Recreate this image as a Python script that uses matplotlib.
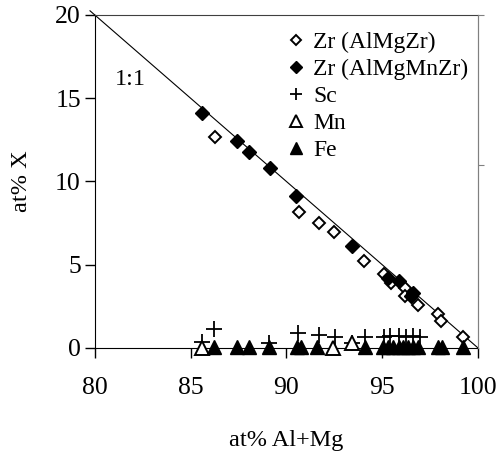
import matplotlib
matplotlib.use("Agg")
import matplotlib.pyplot as plt
import numpy as np

# Data
zr_almgzr_x = [86.25, 90.65, 91.71, 92.48, 94.05, 95.09, 95.46, 96.19, 96.19, 96.88, 97.93, 98.05, 99.23]
zr_almgzr_y = [12.65, 8.17, 7.49, 6.95, 5.24, 4.44, 3.92, 3.59, 3.12, 2.58, 2.04, 1.64, 0.68]
zr_almgmnzr_x = [85.62, 87.40, 88.04, 89.14, 90.48, 93.44, 95.30, 95.89, 96.62, 96.50]
zr_almgmnzr_y = [14.13, 12.45, 11.75, 10.79, 9.15, 6.13, 4.20, 4.04, 3.33, 3.10]
sc_x = [85.57, 86.23, 89.10, 90.62, 91.71, 92.53, 93.40, 94.10, 95.10, 95.40, 95.90, 96.25, 96.60, 96.95]
sc_y = [0.34, 1.12, 0.30, 0.92, 0.78, 0.68, 0.28, 0.68, 0.66, 0.70, 0.70, 0.68, 0.72, 0.66]
mn_x = [85.57, 92.45, 93.40]
mn_y = [0.02, 0.02, 0.28]
fe_x = [86.23, 87.40, 88.04, 89.10, 90.53, 90.75, 91.61, 94.10, 95.05, 95.30, 95.55,
        95.85, 96.10, 96.35, 96.60, 96.85, 97.93, 98.10, 99.23]
fe_y = [0.05] * len(fe_x)

xticks = [80, 85, 90, 95, 100]
yticks = [0, 5, 10, 15, 20]

plt.rcParams['font.family'] = ['Liberation Serif', 'DejaVu Serif']
plt.rcParams['font.size'] = 17

fig = plt.figure(figsize=(4.99, 4.54), dpi=100)
ax = fig.add_axes([0.190, 0.2335, 0.768, 0.7335])

# 1:1 line
lx = np.array([79.75, 100.0])
ax.plot(lx, 100 - lx, color='black', lw=0.8, clip_on=False, zorder=2)

ax.plot(zr_almgzr_x, zr_almgzr_y, linestyle='none', marker='D', ms=6.2,
        mfc='white', mec='black', mew=1.4, label='Zr (AlMgZr)', zorder=3, clip_on=False)
ax.plot(zr_almgmnzr_x, zr_almgmnzr_y, linestyle='none', marker='D', ms=7.0,
        mfc='black', mec='black', mew=1.0, label='Zr (AlMgMnZr)', zorder=3, clip_on=False)
ax.plot(sc_x, sc_y, linestyle='none', marker='+', ms=11, mec='black', mew=1.3,
        label='Sc', zorder=4, clip_on=False)
ax.plot(mn_x, mn_y, linestyle='none', marker='^', ms=9.5, mfc='white', mec='black',
        mew=1.4, label='Mn', zorder=4, clip_on=False)
ax.plot(fe_x, fe_y, linestyle='none', marker='^', ms=10, mfc='black', mec='black',
        mew=1.0, label='Fe', zorder=5, clip_on=False)

ax.set_xlim(80, 100)
ax.set_ylim(0, 20)
ax.set_xticks(xticks)
ax.set_yticks(yticks)
ax.tick_params(axis='x', direction='out', length=7, width=1, pad=14, labelsize=18.5)
ax.tick_params(axis='y', direction='out', length=7, width=1, pad=3, labelsize=18.5)

ax.spines['right'].set_color('#808080')
ax.spines['top'].set_color('#404040')
ax.spines['top'].set_linewidth(0.8)

ax2 = ax.twinx()
ax2.set_ylim(0, 20)
ax2.set_yticks([11, 20])
ax2.set_yticklabels([])
ax2.tick_params(axis='y', direction='out', length=4, color='#808080')
for s in ['left', 'top', 'bottom']:
    ax2.spines[s].set_visible(False)
ax2.spines['right'].set_color('#808080')

ax.set_xlabel('at% Al+Mg', fontsize=17.5, labelpad=22)
ax.set_ylabel('at% X', fontsize=17.5, labelpad=17)

ax.text(81.05, 16.1, '1:1', fontsize=17.5, va='center', ha='left')

leg = ax.legend(loc='upper left', bbox_to_anchor=(0.475, 0.978), frameon=False,
                handlelength=0.8, handletextpad=0.35, labelspacing=0.23,
                borderaxespad=0, fontsize=17, markerscale=0.85)

fig.savefig('out.png', dpi=100)
